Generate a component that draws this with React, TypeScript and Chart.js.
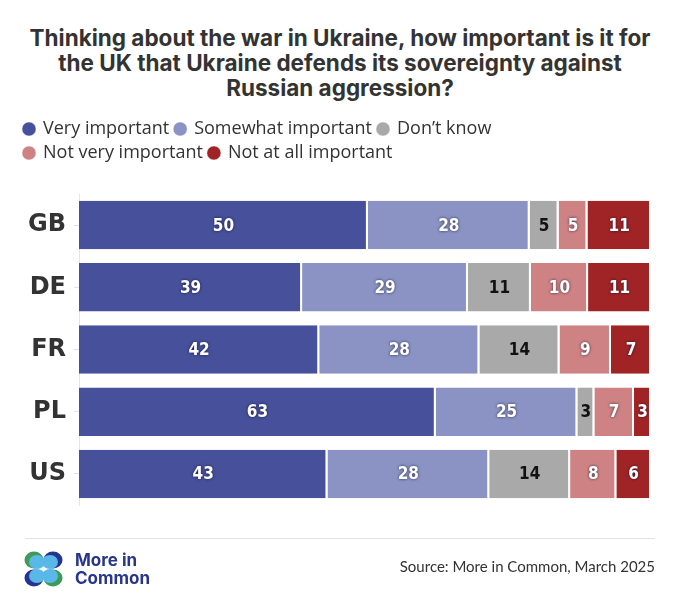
import { useEffect, useRef } from "react"
import { Chart, registerables } from "chart.js"

Chart.register(...registerables)

const countries = ["GB", "DE", "FR", "PL", "US"]
const veryImportant = [50, 39, 42, 63, 43]
const somewhatImportant = [28, 29, 28, 25, 28]
const dontKnow = [5, 11, 14, 3, 14]
const notVeryImportant = [5, 10, 9, 7, 8]
const notAtAllImportant = [11, 11, 7, 3, 6]

const seriesNames = ["Very important", "Somewhat important", "Don\u2019t know", "Not very important", "Not at all important"]
const seriesColors = ["#47519b", "#8a93c3", "#a9a9a9", "#cf8284", "#a02425"]
const labelColors = ["#fff", "#fff", "#111", "#fff", "#fff"]

const rows = [veryImportant, somewhatImportant, dontKnow, notVeryImportant, notAtAllImportant]
// bars all run to the same width in the original, so plot shares of each row total
const rowTotals = countries.map((_, i) => rows.reduce((s, r) => s + r[i], 0))

const segmentLabels = {
  id: "segmentLabels",
  afterDatasetsDraw(chart: any) {
    const { ctx } = chart
    ctx.save()
    ctx.font = "bold 17px 'DejaVu Sans Condensed', 'Liberation Sans Narrow', sans-serif"
    ctx.textAlign = "center"
    ctx.textBaseline = "middle"
    chart.data.datasets.forEach((ds: any, di: number) => {
      const meta = chart.getDatasetMeta(di)
      meta.data.forEach((bar: any, i: number) => {
        const cx = (bar.x + bar.base) / 2
        ctx.fillStyle = labelColors[di]
        if (labelColors[di] === "#fff") {
          ctx.shadowColor = "rgba(10,10,40,0.75)"
          ctx.shadowBlur = 3
        } else {
          ctx.shadowColor = "transparent"
          ctx.shadowBlur = 0
        }
        ctx.fillText(String(ds.raw[i]), cx, bar.y + 1)
      })
    })
    ctx.restore()
  },
}

const legendGap = {
  id: "legendGap",
  beforeInit(chart: any) {
    const fit = chart.legend.fit
    chart.legend.fit = function () {
      fit.bind(chart.legend)()
      this.height += 22
    }
  },
}

function Logo() {
  return (
    <svg width="40" height="36" viewBox="0 0 40 36">
      <ellipse cx="10" cy="9" rx="9.5" ry="8.5" fill="#3f9a5a" />
      <ellipse cx="29" cy="9" rx="9.5" ry="8.5" fill="#25358f" />
      <ellipse cx="10" cy="27" rx="9.5" ry="8.5" fill="#25358f" />
      <ellipse cx="29" cy="27" rx="9.5" ry="8.5" fill="#3f9a5a" />
      <ellipse cx="13" cy="11" rx="8" ry="7" fill="#5ab8e8" />
      <ellipse cx="26" cy="11" rx="8" ry="7" fill="#5ab8e8" />
      <ellipse cx="13" cy="25" rx="8" ry="7" fill="#5ab8e8" />
      <ellipse cx="26" cy="25" rx="8" ry="7" fill="#5ab8e8" />
    </svg>
  )
}

export default function App() {
  const chartRef = useRef<HTMLCanvasElement>(null)
  const chartInstance = useRef<Chart | null>(null)

  useEffect(() => {
    if (!chartRef.current) return
    if (chartInstance.current) chartInstance.current.destroy()
    const ctx = chartRef.current.getContext("2d")
    if (!ctx) return

    chartInstance.current = new Chart(ctx, {
      type: "bar",
      data: {
        labels: countries,
        datasets: rows.map((r, di) => ({
          label: seriesNames[di],
          data: r.map((v, i) => (v / rowTotals[i]) * 100),
          raw: r,
          backgroundColor: seriesColors[di],
          borderColor: "#ffffff",
          borderWidth: { left: 0, top: 0, bottom: 0, right: 2 },
          borderSkipped: false,
          barPercentage: 0.78,
          categoryPercentage: 1,
        })) as any,
      },
      options: {
        indexAxis: "y",
        animation: false,
        responsive: true,
        maintainAspectRatio: false,
        layout: { padding: { top: 114, left: 18, right: 29, bottom: 104 } },
        scales: {
          x: { stacked: true, display: false, min: 0, max: 100 },
          y: {
            stacked: true,
            grid: { display: true, drawOnChartArea: false, drawTicks: true, tickLength: 5, offset: false, color: "#e4e4e4" },
            border: { display: true, color: "#e4e4e4" },
            ticks: {
              color: "#333",
              padding: 8,
              font: { family: "'DejaVu Sans', sans-serif", size: 24, weight: "bold" },
            },
            afterFit(scale: any) {
              scale.width = 79 - 18
            },
          },
        },
        plugins: {
          legend: {
            position: "top",
            align: "start",
            labels: {
              usePointStyle: true,
              pointStyle: "circle",
              boxWidth: 10,
              boxHeight: 10,
              padding: 6,
              color: "#333",
              font: { family: "'Open Sans', sans-serif", size: 18 },
            },
          },
          tooltip: { enabled: false },
        },
      },
      plugins: [segmentLabels, legendGap],
    })

    return () => {
      if (chartInstance.current) chartInstance.current.destroy()
    }
  }, [])

  return (
    <div style={{ position: "fixed", left: 0, top: 0, width: 680, height: 609, background: "#fff", fontFamily: "'Open Sans', sans-serif" }}>
      <div
        style={{
          position: "absolute",
          top: 25,
          left: 0,
          width: 680,
          textAlign: "center",
          fontSize: 22.5,
          lineHeight: "25px",
          fontWeight: 700,
          color: "#333",
          fontFamily: "Inter, sans-serif",
        }}
      >
        Thinking about the war in Ukraine, how important is it for
        <br />
        the UK that Ukraine defends its sovereignty against
        <br />
        Russian aggression?
      </div>
      <canvas ref={chartRef} style={{ position: "absolute", left: 0, top: 0 }} />
      <div style={{ position: "absolute", left: 25, top: 538, width: 630, height: 1, background: "#e2e2e2" }} />
      <div style={{ position: "absolute", left: 24, top: 551 }}>
        <Logo />
      </div>
      <div
        style={{
          position: "absolute",
          left: 75,
          top: 551,
          fontSize: 17,
          lineHeight: "18px",
          fontWeight: 700,
          color: "#27358c",
          fontFamily: "Inter, sans-serif",
        }}
      >
        More in
        <br />
        Common
      </div>
      <div style={{ position: "absolute", right: 25, top: 557, fontSize: 15, color: "#333", fontFamily: "Lato, sans-serif" }}>
        Source: More in Common, March 2025
      </div>
    </div>
  )
}
